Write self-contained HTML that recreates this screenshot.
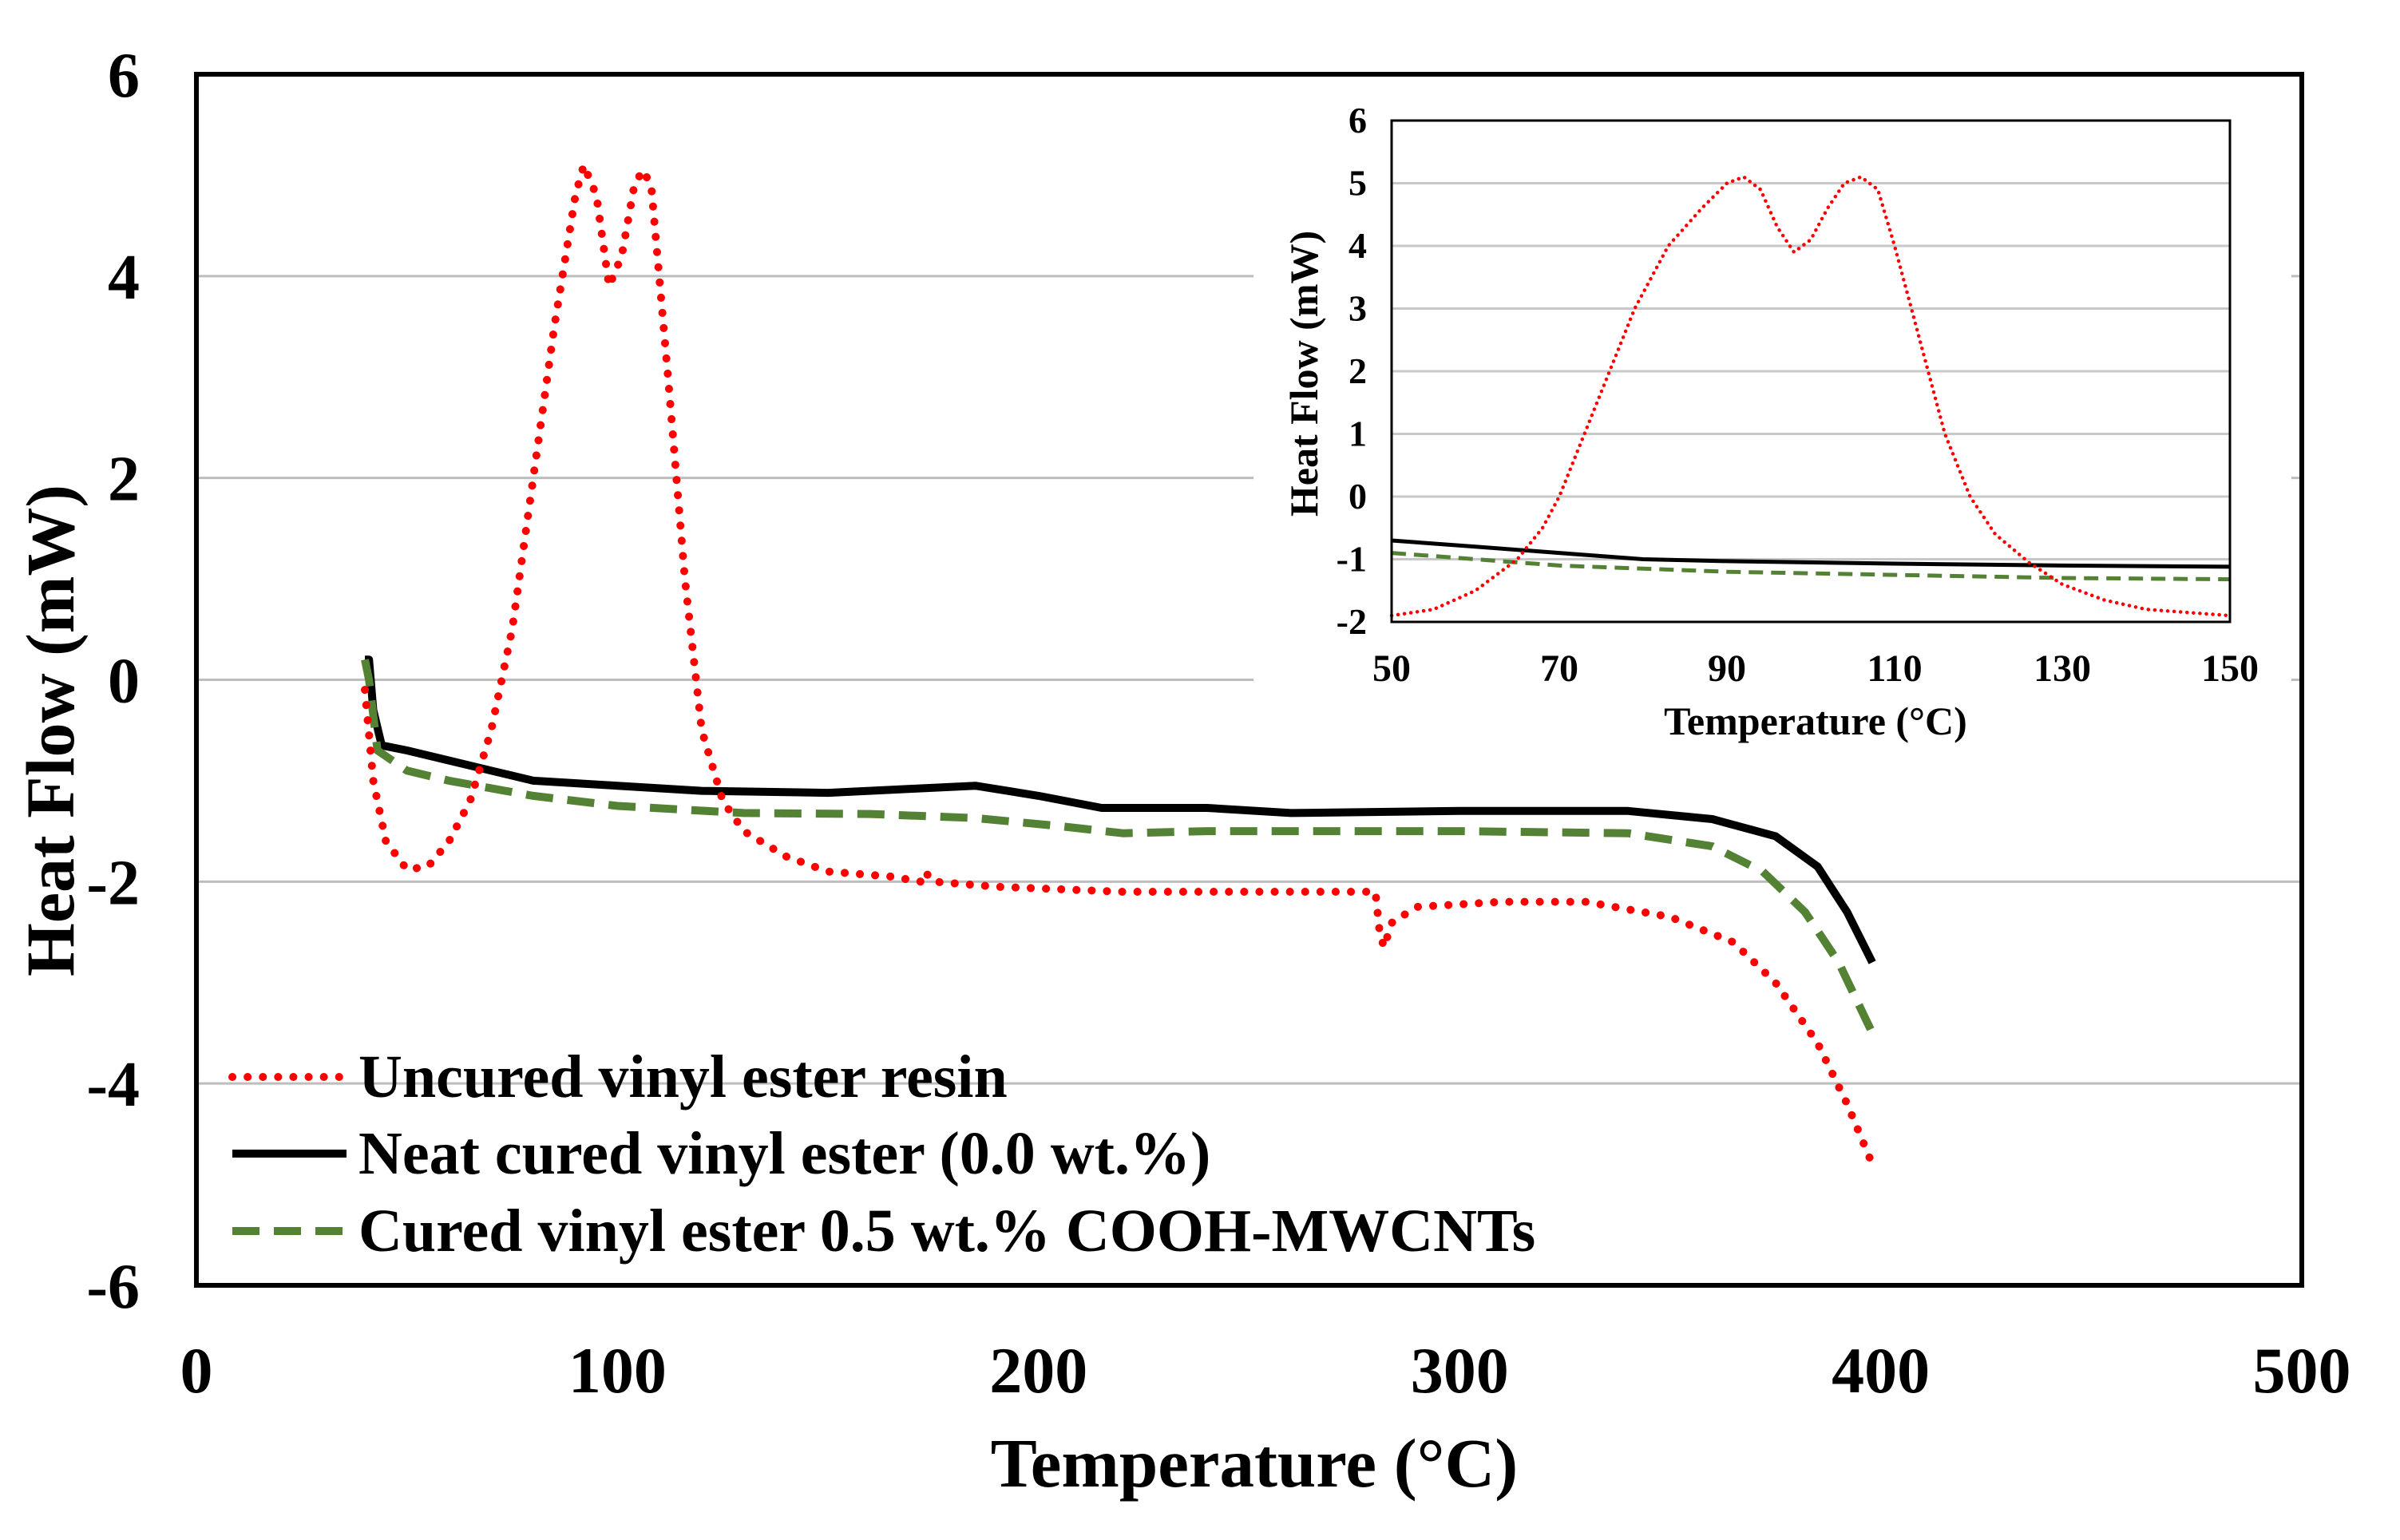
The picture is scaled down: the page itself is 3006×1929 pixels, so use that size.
<!DOCTYPE html>
<html><head><meta charset="utf-8"><style>
html,body{margin:0;padding:0;background:#fff;}
svg{display:block;}
text{font-family:"Liberation Serif",serif;font-weight:bold;fill:#000;}
</style></head><body>
<svg id="c" width="3006" height="1929" viewBox="0 0 3006 1929" xmlns="http://www.w3.org/2000/svg"></svg>
<script>
const xTicks=[0,100,200,300,400,500];
const yTicks=[-6,-4,-2,0,2,4,6];
const uncuredX=[40,42,45,50,55,60,65,70,75,80,85,90,92,95,98,101,104,106,108,112,116,120,125,130,140,150,165,172,173,175,190,220,280,281,282,284,290,310,330,350,365,375,385,392,398];
const uncuredY=[-0.1,-1.0,-1.6,-1.88,-1.85,-1.6,-1.2,-0.5,0.5,2,3.5,4.8,5.1,4.8,3.9,4.2,4.9,5.05,4.9,3,1,-0.5,-1.2,-1.5,-1.75,-1.9,-1.95,-2,-1.9,-2.0,-2.05,-2.1,-2.1,-2.5,-2.65,-2.4,-2.25,-2.2,-2.2,-2.35,-2.6,-3.0,-3.6,-4.2,-4.8];
const neatX=[40,41,42,44,50,60,70,80,100,120,150,170,185,200,215,240,260,300,340,360,375,385,392,398];
const neatY=[0.2,0.2,-0.3,-0.65,-0.7,-0.8,-0.9,-1.0,-1.05,-1.1,-1.12,-1.08,-1.05,-1.15,-1.27,-1.27,-1.32,-1.3,-1.3,-1.38,-1.55,-1.85,-2.3,-2.8];
const cntX=[40,41,43,50,60,80,100,130,160,185,205,220,240,300,340,360,372,382,390,398];
const cntY=[0.2,0.0,-0.7,-0.9,-1.0,-1.15,-1.25,-1.32,-1.33,-1.37,-1.45,-1.52,-1.5,-1.5,-1.52,-1.65,-1.9,-2.3,-2.8,-3.5];
const insetXTicks=[50,70,90,110,130,150];
const insetYTicks=[-2,-1,0,1,2,3,4,5,6];
const insetUncuredX=[50,55,60,65,68,70,73,76,79,83,87,90,92,94,96,98,100,102,104,106,108,110,112,114,116,119,122,126,130,135,140,150];
const insetUncuredY=[-1.9,-1.8,-1.5,-1,-0.5,0,1,2,3,4,4.6,5.0,5.1,4.9,4.3,3.9,4.1,4.6,5.0,5.1,4.9,4.0,3.0,2.0,1.0,0,-0.6,-1.05,-1.4,-1.65,-1.8,-1.9];
const insetNeatX=[50,60,70,80,90,110,130,150];
const insetNeatY=[-0.7,-0.8,-0.9,-1.0,-1.03,-1.07,-1.1,-1.12];
const insetCntX=[50,60,70,90,110,130,150];
const insetCntY=[-0.9,-1.0,-1.1,-1.2,-1.25,-1.3,-1.32];

const svg=document.getElementById('c');
const NS='http://www.w3.org/2000/svg';
function mk(tag,at,parent){const e=document.createElementNS(NS,tag);for(const k in at)e.setAttribute(k,at[k]);(parent||svg).appendChild(e);return e;}
const L=246,R=2883,T=93,B=1610;
const sx=v=>L+(v-0)/500*(R-L), sy=v=>B-(v+6)/12*(B-T);
const IL=1743,IR=2793,IT=151,IB=779;
const ix=v=>IL+(v-50)/100*(IR-IL), iy=v=>IB-(v+2)/8*(IB-IT);

let g;
yTicks.forEach(v=>{if(v===-6||v===6)return;
 g=mk('line',{x1:L,x2:R,y1:sy(v),y2:sy(v),stroke:'#bdbdbd','stroke-width':3});
 
 
});
yTicks.forEach(v=>{g=mk('text',{x:175,y:sy(v)+28,'text-anchor':'end','font-size':80});g.textContent=v;
 });
xTicks.forEach(v=>{g=mk('text',{x:sx(v),y:1744,'text-anchor':'middle','font-size':82});g.textContent=v;
 });
g=mk('text',{x:1571,y:1862,'text-anchor':'middle','font-size':87});g.textContent='Temperature (°C)';

g=mk('text',{x:0,y:0,'text-anchor':'middle','font-size':86,transform:'translate(92,915) rotate(-90)'});g.textContent='Heat Flow (mW)';


function path(xs,ys,fx,fy,at,name){let d='';xs.forEach((x,i)=>{d+=(i?'L':'M')+fx(x).toFixed(1)+','+fy(ys[i]).toFixed(1);});
 const p=mk('path',Object.assign({d:d,fill:'none','stroke-linejoin':'round'},at));
 return p;}
path(neatX,neatY,sx,sy,{stroke:'#000','stroke-width':10},'neat-cured-line');
path(cntX,cntY,sx,sy,{stroke:'#548235','stroke-width':10,'stroke-dasharray':'34,18'},'cnt-cured-line');
path(uncuredX,uncuredY,sx,sy,{stroke:'#ff0000','stroke-width':10,'stroke-dasharray':'0.1,19','stroke-linecap':'round'},'uncured-line');

g=mk('rect',{x:1570,y:112,width:1300,height:813,fill:'#fff'});

insetYTicks.forEach(v=>{if(v===-2||v===6)return;
 g=mk('line',{x1:IL,x2:IR,y1:iy(v),y2:iy(v),stroke:'#c8c8c8','stroke-width':3});
 });
insetYTicks.forEach(v=>{g=mk('text',{x:1712,y:iy(v)+15,'text-anchor':'end','font-size':46});g.textContent=v;
 });
insetXTicks.forEach(v=>{g=mk('text',{x:ix(v),y:853,'text-anchor':'middle','font-size':48});g.textContent=v;
 });
g=mk('text',{x:2274,y:920,'text-anchor':'middle','font-size':50});g.textContent='Temperature (°C)';

g=mk('text',{x:0,y:0,'text-anchor':'middle','font-size':50,transform:'translate(1650,468) rotate(-90)'});g.textContent='Heat Flow (mW)';

path(insetNeatX,insetNeatY,ix,iy,{stroke:'#000','stroke-width':5},'inset-neat-line');
path(insetCntX,insetCntY,ix,iy,{stroke:'#548235','stroke-width':5,'stroke-dasharray':'18,10'},'inset-cnt-line');
path(insetUncuredX,insetUncuredY,ix,iy,{stroke:'#ff0000','stroke-width':4.5,'stroke-dasharray':'0.1,8','stroke-linecap':'round'},'inset-uncured-line');
g=mk('rect',{x:IL,y:IT,width:IR-IL,height:IB-IT,fill:'none',stroke:'#000','stroke-width':3});


g=mk('rect',{x:L,y:T,width:R-L,height:B-T,fill:'none',stroke:'#000','stroke-width':6});


const legLabels=['Uncured vinyl ester resin','Neat cured vinyl ester (0.0 wt.%)','Cured vinyl ester 0.5 wt.% COOH-MWCNTs'];
const legStyles=[{stroke:'#ff0000','stroke-width':10,'stroke-dasharray':'0.1,19','stroke-linecap':'round'},{stroke:'#000','stroke-width':10},{stroke:'#548235','stroke-width':10,'stroke-dasharray':'34,18'}];
const legY=[1349,1445,1542];
legLabels.forEach((t,i)=>{
 g=mk('line',Object.assign({x1:291,x2:434,y1:legY[i],y2:legY[i]},legStyles[i]));
 
 g=mk('text',{x:449,y:legY[i]+25,'font-size':76});g.textContent=t;
 
});
</script>
</body></html>
